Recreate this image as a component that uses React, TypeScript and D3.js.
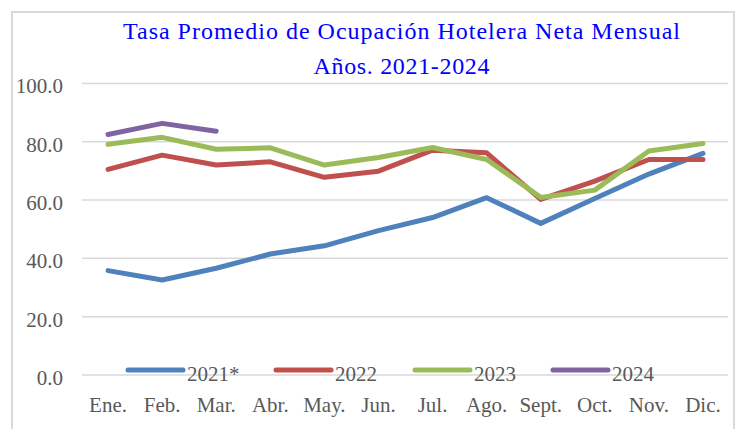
import React from "react";
import * as d3 from "d3";

const months = ["Ene.", "Feb.", "Mar.", "Abr.", "May.", "Jun.", "Jul.", "Ago.", "Sept.", "Oct.", "Nov.", "Dic."];
const s2021 = [35.8, 32.6, 36.6, 41.5, 44.3, 49.5, 54.0, 60.8, 52.0, 60.5, 68.9, 76.0];
const s2022 = [70.5, 75.4, 72.0, 73.1, 67.8, 69.9, 77.1, 76.2, 60.2, 66.5, 73.9, 73.9];
const s2023 = [79.1, 81.5, 77.4, 77.9, 72.0, 74.6, 78.0, 73.9, 60.9, 63.4, 76.8, 79.4];
const s2024 = [82.5, 86.3, 83.6];
const seriesNames = ["2021*", "2022", "2023", "2024"];
const yTicks = [0, 20, 40, 60, 80, 100];
const titleLines = ["Tasa Promedio de Ocupación Hotelera Neta Mensual", "Años. 2021-2024"];

const colors = ["#4F81BD", "#C0504D", "#9BBB59", "#8064A2"];
const allSeries = [s2021, s2022, s2023, s2024];

export default function App() {
  const W = 739, H = 429;
  const x = d3.scaleBand<string>().domain(months).range([81, 730]);
  const y = d3.scaleLinear().domain([0, 100]).range([375, 83.4]);
  const line = d3.line<number>()
    .x((_, i) => (x(months[i]) as number) + x.bandwidth() / 2)
    .y((d) => y(d));
  const fontStyle = { fontFamily: "'Liberation Serif', 'Times New Roman', Times, serif" };
  const legendX = [128, 276, 415, 553];
  const titleWidths = [557, 176];
  return (
    <svg width={W} height={H} style={{ position: "absolute", left: 0, top: 0, background: "#fff" }}>
      <rect x={12} y={12} width={722} height={430} fill="#fff" stroke="#d9d9d9" strokeWidth={2} />
      {titleLines.map((t, i) => (
        <text key={i} x={401.5} y={38.5 + i * 35} textAnchor="middle" fill="#0000FF"
          style={fontStyle} fontSize={24} textLength={titleWidths[i]} lengthAdjust="spacing">{t}</text>
      ))}
      {yTicks.map((t) => (
        <g key={t}>
          <line x1={82} x2={728} y1={y(t)} y2={y(t)} stroke="#d9d9d9" strokeWidth={1.5} />
          <text x={63} y={y(t) + 10} textAnchor="end" fill="#595959" style={fontStyle} fontSize={21}>
            {d3.format(".1f")(t)}
          </text>
        </g>
      ))}
      {months.map((m) => (
        <text key={m} x={(x(m) as number) + x.bandwidth() / 2} y={411.5} textAnchor="middle"
          fill="#595959" style={fontStyle} fontSize={21}>{m}</text>
      ))}
      {allSeries.map((s, i) => (
        <path key={i} d={line(s) || ""} fill="none" stroke={colors[i]} strokeWidth={5}
          strokeLinecap="round" strokeLinejoin="round" />
      ))}
      {seriesNames.map((n, i) => (
        <g key={n}>
          <line x1={legendX[i]} x2={legendX[i] + 55} y1={370} y2={370} stroke={colors[i]}
            strokeWidth={5} strokeLinecap="round" />
          <text x={legendX[i] + 59} y={380.5} fill="#595959" style={fontStyle} fontSize={21}>{n}</text>
        </g>
      ))}
    </svg>
  );
}
